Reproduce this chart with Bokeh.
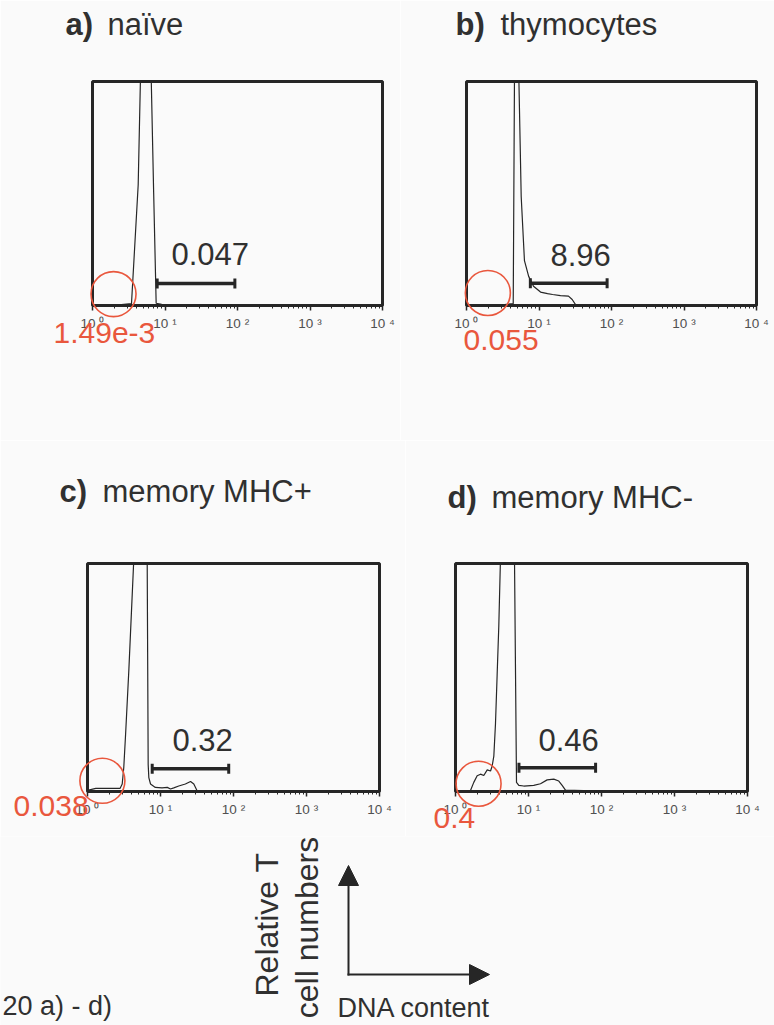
import math
from bokeh.plotting import figure
from bokeh.layouts import column, row
from bokeh.models import Range1d, Arrow, NormalHead, FixedTicker
from bokeh.core.properties import value
from bokeh.embed import file_html
from bokeh.resources import INLINE

# ---------------- data ----------------
panel_letters = ["a)", "b)", "c)", "d)"]
panel_names = ["naïve", "thymocytes", "memory MHC+", "memory MHC-"]
gate_pct = ["0.047", "8.96", "0.32", "0.46"]
subg1_pct = ["1.49e-3", "0.055", "0.038", "0.4"]
gate_lo = [7.8, 7.6, 7.7, 7.4]
gate_hi = [92, 87, 86, 83]
gate_level = [9.8, 9.9, 10.0, 10.4]
circle_dna = [1.95, 1.97, 1.6, 2.07]
circle_cells = [5.1, 5.6, 4.7, 3.4]

tick_values = [1, 10, 100, 1000, 10000]
tick_labels = ["10 \u2070", "10 \u00b9", "10 \u00b2", "10 \u00b3", "10 \u2074"]

dna_a = [1.0, 2.5, 3.45, 4.27, 4.59, 5.3, 6.45, 6.98, 7.55, 9.0, 15, 40, 100, 1000, 10000]
cells_a = [0.4, 0.4, 0.8, 54, 102, 500, 102, 50, 1.0, 0.5, 0.4, 0.3, 0.2, 0.1, 0.1]

dna_b = [1.0, 3.0, 4.41, 4.59, 4.9, 5.27, 5.68, 6.3, 7.2, 8.4, 10.5, 13.1, 15.4, 19.8, 25.5, 28.7, 31.9, 100, 10000]
cells_b = [0.3, 0.3, 0.8, 102, 500, 102, 48.7, 20, 13, 8.6, 6.0, 5.3, 4.9, 4.4, 4.2, 2.7, 0.4, 0.2, 0.1]

dna_c = [1.0, 1.3, 2.8, 2.99, 3.14, 3.32, 3.68, 4.31, 5.3, 6.57, 6.78, 6.92, 7.3, 8.5, 10.5, 12.4,
         13.7, 15.2, 17.8, 21.9, 25.8, 28.6, 31.7, 100, 10000]
cells_c = [0.5, 1.4, 1.4, 3.3, 10.5, 24.7, 52.9, 102, 500, 102, 11.8, 6.1, 3.3, 1.8, 1.6, 1.8,
           1.1, 1.6, 2.4, 3.3, 4.4, 3.3, 0.3, 0.2, 0.1]

dna_d = [1.0, 1.6, 1.78, 1.98, 2.2, 2.44, 2.72, 3.02, 3.18, 3.35, 3.53, 3.72, 3.92, 4.13, 5.2,
         6.43, 6.85, 7.37, 8.6, 11.8, 14.6, 18.0, 22.2, 26.0, 28.9, 32.1, 100, 10000]
cells_d = [0.2, 0.3, 4.0, 6.9, 7.6, 7.0, 9.5, 9.0, 11.2, 15.5, 29.7, 51.2, 72.7, 102, 500,
           102, 4.0, 2.7, 2.4, 2.7, 3.4, 5.1, 5.4, 4.6, 2.7, 0.6, 0.2, 0.1]

dna_series = [dna_a, dna_b, dna_c, dna_d]
cell_series = [cells_a, cells_b, cells_c, cells_d]

# ---------------- style / layout ----------------
BG = "#fafafa"
INK = "#262626"
TXT = "#303030"
RED = "#e9573d"
FONT = "Liberation Sans"
BASE_SHIFT = 0.4  # renderer places "alphabetic" text ~0.4em low; compensate

# width, height, border l, r, t, b
geom = [
    (400, 440, 92, 18, 70, 135),
    (374, 440, 66, 18, 81, 127),
    (405, 396, 87, 26, 116, 45),
    (369, 396, 50, 27, 123, 40),
]
# canvas positions (x, baseline y) for texts
title_pos = [((65, 36), (107, 36)), ((55, 44), (100, 44)),
             ((59, 63), (102, 63)), ((42, 74), (86, 74))]
gate_txt_pos = [(171, 266), (150, 275), (172, 312), (133, 317)]
red_txt_pos = [(53, 344), (63, 359), (13, 377), (28, 394)]


def panel_text(p, i, cx, cy, text, size, color=TXT, style="normal"):
    """Text anchored at the frame's lower-left corner, offset in pixels."""
    w, h, l, r, t, b = geom[i]
    p.text(x=[tick_values[0]], y=[0], text=[text], x_offset=cx - l,
           y_offset=cy - (h - b) - BASE_SHIFT * size,
           text_font=value(FONT), text_font_size=value(f"{size}px"), text_color=color,
           text_font_style=style, text_baseline="alphabetic", text_align="left",
           level="overlay")


def make_panel(i):
    w, h, l, r, t, b = geom[i]
    p = figure(width=w, height=h, x_axis_type="log",
               x_range=Range1d(tick_values[0], tick_values[-1]), y_range=Range1d(0, 100),
               y_axis_location=None, toolbar_location=None, output_backend="svg",
               title=None, min_border_left=l, min_border_right=r,
               min_border_top=t, min_border_bottom=b,
               background_fill_color=BG, border_fill_color=BG,
               outline_line_color=INK, outline_line_width=3)
    p.grid.visible = False
    ax = p.xaxis[0]
    ax.ticker = FixedTicker(ticks=tick_values,
                            minor_ticks=[m * 10 ** k for k in range(4) for m in range(2, 10)])
    ax.major_label_overrides = dict(zip(tick_values, tick_labels))
    ax.axis_line_width = 3
    ax.axis_line_color = INK
    ax.major_tick_in = 0
    ax.major_tick_out = 5
    ax.minor_tick_in = 0
    ax.minor_tick_out = 3
    ax.major_tick_line_color = INK
    ax.minor_tick_line_color = INK
    ax.major_tick_line_width = 1.5
    ax.minor_tick_line_width = 1
    ax.major_label_text_font = FONT
    ax.major_label_text_font_size = "13.5px"
    ax.major_label_text_color = "#505050"
    ax.major_label_standoff = 5

    p.line(dna_series[i], cell_series[i], line_color=INK, line_width=1.2)
    g = gate_level[i]
    p.segment(x0=[gate_lo[i]], y0=[g], x1=[gate_hi[i]], y1=[g], line_color=INK, line_width=3.5)
    p.scatter(x=[gate_lo[i], gate_hi[i]], y=[g, g], marker="dash", angle=math.pi / 2,
              size=10, line_color=INK, line_width=3)
    rc = p.scatter(x=[circle_dna[i]], y=[circle_cells[i]], marker="circle", size=45,
                   fill_color=None, line_color=RED, line_width=1.6)
    rc.level = "overlay"

    (tx1, ty1), (tx2, ty2) = title_pos[i]
    panel_text(p, i, tx1, ty1, panel_letters[i], 31, style="bold")
    panel_text(p, i, tx2, ty2, panel_names[i], 31)
    gx, gy = gate_txt_pos[i]
    panel_text(p, i, gx, gy, gate_pct[i], 31)
    rx, ry = red_txt_pos[i]
    panel_text(p, i, rx, ry, subg1_pct[i], 30, color=RED)
    return p


panels = [make_panel(i) for i in range(4)]

# ---------------- axis legend at the bottom ----------------
leg = figure(width=774, height=189, x_range=Range1d(0, 774), y_range=Range1d(189, 0),
             x_axis_location=None, y_axis_location=None, toolbar_location=None,
             output_backend="svg", title=None, min_border=0,
             background_fill_color=BG, border_fill_color=BG, outline_line_color=None)
leg.grid.visible = False
leg.add_layout(Arrow(end=NormalHead(size=20, fill_color=INK, line_color=INK),
                     x_start=348, y_start=139, x_end=348, y_end=29,
                     line_color=INK, line_width=2))
leg.add_layout(Arrow(end=NormalHead(size=20, fill_color=INK, line_color=INK),
                     x_start=347, y_start=138, x_end=489, y_end=138,
                     line_color=INK, line_width=2))
leg.text(x=[266, 306], y=[88, 91], text=["Relative T", "cell numbers"], angle=math.pi / 2,
         text_font=value(FONT), text_font_size=value("32px"), text_color=TXT,
         text_align="center", text_baseline="middle")
leg.text(x=[337, 2], y=[182 - BASE_SHIFT * 27, 180 - BASE_SHIFT * 27],
         text=["DNA content", "20 a) - d)"],
         text_font=value(FONT), text_font_size=value("27px"), text_color=TXT,
         text_align="left", text_baseline="alphabetic")

layout = column(row(panels[0], panels[1]), row(panels[2], panels[3]), leg)
open("out.html", "w").write(file_html(layout, INLINE))
